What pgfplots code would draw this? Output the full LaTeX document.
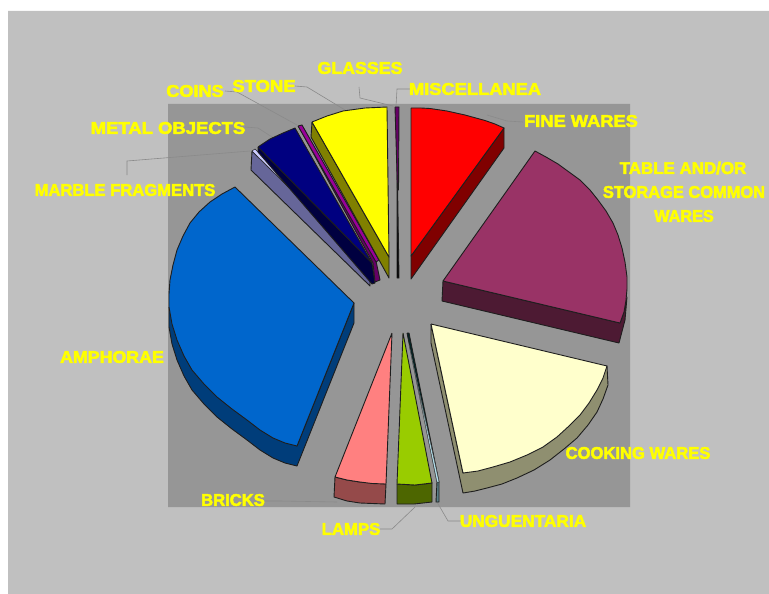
\documentclass[border=0pt]{standalone}
\usepackage{fontspec}
\setmainfont{Liberation Sans}[BoldFeatures={FakeBold=3}]
\usepackage{pgfplots}
\pgfplotsset{compat=1.18}
\definecolor{panel}{HTML}{C0C0C0}
\definecolor{inner}{HTML}{969696}
\definecolor{lead}{HTML}{8A8A8A}
\definecolor{lab}{HTML}{FFFF00}
\definecolor{cred}{HTML}{FF0000}\definecolor{sred}{HTML}{800000}
\definecolor{ctab}{HTML}{993366}\definecolor{stab}{HTML}{4D1A33}
\definecolor{ccook}{HTML}{FFFFCC}\definecolor{scook}{HTML}{8F8F70}
\definecolor{cung}{HTML}{B5E3F0}\definecolor{sung}{HTML}{5A8088}
\definecolor{clamp}{HTML}{99CC00}\definecolor{slamp}{HTML}{4D6600}
\definecolor{cbri}{HTML}{FF8080}\definecolor{sbri}{HTML}{954A4A}
\definecolor{camp}{HTML}{0066CC}\definecolor{samp}{HTML}{003D7A}
\definecolor{cmar}{HTML}{CCCCFF}\definecolor{smar}{HTML}{666699}
\definecolor{cmet}{HTML}{000080}\definecolor{smet}{HTML}{000040}
\definecolor{ccoi}{HTML}{990099}\definecolor{scoi}{HTML}{660066}
\definecolor{csto}{HTML}{FFFF00}\definecolor{ssto}{HTML}{808000}
\definecolor{cgla}{HTML}{660066}
\definecolor{edge}{HTML}{1E1E1E}
\tikzset{lb/.style={text=lab,font=\bfseries\fontsize{17}{17}\selectfont,xscale=#1,inner sep=0pt,align=center}}
\pgfplotsset{
  f/.style={fill=#1,draw=edge,line width=0.9pt,mark=none,line join=round,solid},
  ld/.style={draw=lead,line width=0.6pt,mark=none,no markers,fill=none}
}
\begin{document}
\begin{tikzpicture}
\begin{axis}[width=769bp,height=594bp,scale only axis,xmin=0,xmax=769,ymin=0,ymax=594,y dir=reverse,hide axis,clip=false]
% background
\addplot[fill=white,draw=none,mark=none] coordinates {(0,0)(769,0)(769,594)(0,594)(0,0)};
\addplot[fill=panel,draw=none,mark=none] coordinates {(8,11)(769,11)(769,594)(8,594)(8,11)};
\addplot[fill=inner,draw=none,mark=none] coordinates {(168,104)(630,104)(630,507)(168,507)(168,104)};
% leaders
\addplot[ld] coordinates {(359,87)(360,98)(393,106)};
\addplot[ld] coordinates {(410,89)(397,89)(396,106)};
\addplot[ld] coordinates {(295,86)(307,87)(345,110)};
\addplot[ld] coordinates {(225,91)(237,92)(297,125)};
\addplot[ld] coordinates {(245,127)(258,128)(272,137)};
\addplot[ld] coordinates {(127,175)(127,161)(250,151)};
\addplot[ld] coordinates {(523,122)(507,121)(487,115)};
\addplot[ld] coordinates {(265,501)(280,501)(337,502)};
\addplot[ld] coordinates {(380,529)(392,529)(415,507)};
\addplot[ld] coordinates {(462,521)(448,521)(437,502)};
% marble fragments
\addplot[f=smar] coordinates {(252,151)(370,267)(370,286)(251,170)(252,151)};
\addplot[fill=cmar,draw=edge,line width=0.5pt,mark=none] coordinates {(252,151)(255,149)(372,264)(370,267)(252,151)};
% metal objects
\addplot[f=smet] coordinates {(258,147)(258,152)(372,284)(375,283)(372,263)(258,147)};
\addplot[f=cmet] coordinates {(258,147)(264,143)(270,139)(283,133)(295,128)(372,263)(258,147)};
% coins
\addplot[f=scoi] coordinates {(299,127)(376,261)(380,280)(375,282)(373,263)(299,127)};
\addplot[f=ccoi] coordinates {(298,126)(302,125)(379,260)(376,262)(298,126)};
% stone
\addplot[f=ssto] coordinates {(312,122)(311,137)(389,278)(389,257)(312,122)};
\addplot[f=csto] coordinates {(312,122)(327,116)(343,111)(354,109.5)(365,108)(376,107.5)(387,107)(389,257)(312,122)};
% glasses
\addplot[f=black] coordinates {(397,150)(399,278)(397,278)(397,150)};
\addplot[f=cgla] coordinates {(395,107)(399,107)(398.5,190)(397.5,190)(395,107)};
% fine wares
\addplot[f=sred] coordinates {(411,256)(504,128)(504,148)(411,279)(411,256)};
\addplot[f=cred] coordinates {(411,108)(421,108)(430,108.5)(447,111)(465,115)(485,120.5)(495,124)(504,128)(411,256)(411,108)};
% table
\addplot[f=stab] coordinates {(443,281)(620,323)(624,312)(627,297)(625,320)(619,343)(442,301)(443,281)};
\addplot[f=ctab] coordinates {(443,281)(535,151)(546,157)(558,164)(569,172)(580,180)(590,190)(598,200)(606,211)(613,223)(618,235)(622,248)(625,262)(627,277)(627,289)(626,300)(624,312)(620,323)(443,281)};
% cooking
\addplot[f=scook] coordinates {(431,324)(431,343)(463,493)(475,491)(487,488)(502,484)(517,478)(534,470)(550,460)(564,449)(577,438)(588,425)(597,412)(603,399)(608,385)(607,366)(463,473)(431,324)};
\addplot[f=ccook] coordinates {(431,324)(607,366)(603,378)(597,390)(589,403)(580,415)(569,426)(557,437)(543,447)(527,455)(510,462)(493,467)(478,471)(463,473)(431,324)};
% unguentaria
\addplot[f=sung] coordinates {(437,482)(439,482)(439,502)(436,502)(437,482)};
\addplot[f=black!70!teal] coordinates {(407,333)(409,333)(439,482)(437,482)(407,333)};
\addplot[fill=cung,draw=black!70,line width=0.4pt,mark=none] coordinates {(409,345)(437,482)(439,482)(409,345)};
% lamps
\addplot[f=slamp] coordinates {(397,484)(415,485)(432,483)(432,502)(414,504)(397,504)(397,484)};
\addplot[f=clamp] coordinates {(403,333)(432,483)(415,485)(397,484)(403,333)};
% bricks
\addplot[f=sbri] coordinates {(335,477)(334,497)(347,501)(360,503)(385,504)(386,484)(360,482)(347,480)(335,477)};
\addplot[f=cbri] coordinates {(392,333)(386,484)(372,483.5)(360,482)(347,480)(335,477)(392,333)};
% amphorae
\addplot[f=samp] coordinates {(169,307)(169,327)(172,344)(177,360)(184,376)(192,390)(204,404)(217,417)(232,429)(247,440)(260,450)(273,458)(285,463)(297,466)(354,323)(354,303)(297,446)(169,307)};
\addplot[f=camp] coordinates {(354,303)(235,187)(222,194)(210,202)(199,212)(190,223)(183,236)(177,250)(173,265)(170,280)(169,294)(169,307)(172,324)(177,340)(184,356)(192,370)(204,384)(217,397)(232,409)(247,420)(260,430)(273,438)(285,443)(297,446)(354,303)};
% labels
\node[lb=1.05] at (axis cs:360,68) {GLASSES};
\node[lb=1.08] at (axis cs:475,89) {MISCELLANEA};
\node[lb=1.08] at (axis cs:581,121) {FINE WARES};
\node[lb=1.0] at (axis cs:683,168) {TABLE AND/OR};
\node[lb=0.97] at (axis cs:684,192) {STORAGE COMMON};
\node[lb=0.96] at (axis cs:684,216) {WARES};
\node[lb=0.98] at (axis cs:638,453) {COOKING WARES};
\node[lb=1.02] at (axis cs:523,521) {UNGUENTARIA};
\node[lb=0.99] at (axis cs:351,529) {LAMPS};
\node[lb=0.98] at (axis cs:233,500) {BRICKS};
\node[lb=1.05] at (axis cs:112,357) {AMPHORAE};
\node[lb=0.98] at (axis cs:125,190) {MARBLE FRAGMENTS};
\node[lb=1.09] at (axis cs:168,128) {METAL OBJECTS};
\node[lb=1.07] at (axis cs:195,91) {COINS};
\node[lb=1.09] at (axis cs:264,86) {STONE};
\end{axis}
\end{tikzpicture}
\end{document}
